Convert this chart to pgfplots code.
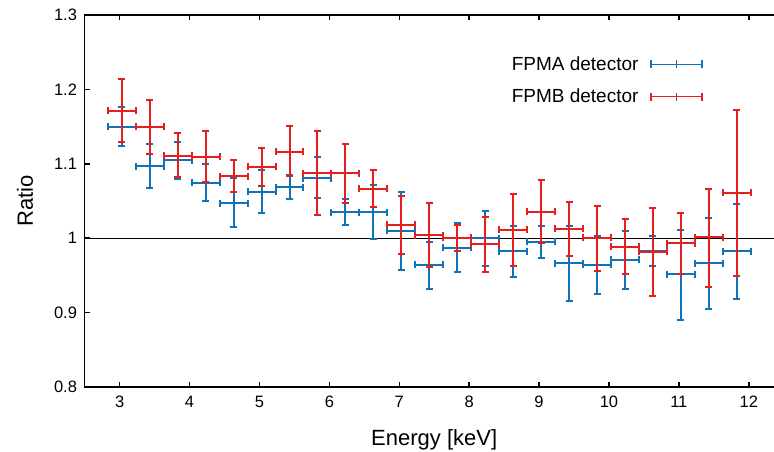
\documentclass[border=0pt]{standalone}
\usepackage{pgfplots}
\pgfplotsset{compat=1.18}
\usepackage{pgfplotstable}
\usepackage{fontspec}
\setmainfont{Liberation Sans}
\definecolor{cblue}{RGB}{16,114,184}
\definecolor{cred}{RGB}{230,30,30}

\pgfplotstableread{
x y ex eyp eym
3.03 1.1495 0.2 0.0264 0.0260
3.43 1.0966 0.2 0.0296 0.0291
3.83 1.1051 0.2 0.0242 0.0255
4.23 1.0746 0.2 0.0247 0.0246
4.63 1.0469 0.2 0.0344 0.0314
5.03 1.0625 0.2 0.0288 0.0282
5.43 1.0684 0.2 0.0161 0.0161
5.83 1.0809 0.2 0.0287 0.0273
6.23 1.0348 0.2 0.0179 0.0171
6.63 1.0348 0.2 0.0371 0.0363
7.03 1.0101 0.2 0.0516 0.0528
7.43 0.9640 0.2 0.0309 0.0323
7.83 0.9873 0.2 0.0327 0.0331
8.23 0.9999 0.2 0.0363 0.0373
8.63 0.9828 0.2 0.0340 0.0354
9.03 0.9949 0.2 0.0215 0.0215
9.43 0.9663 0.2 0.0496 0.0507
9.83 0.9640 0.2 0.0390 0.0390
10.23 0.9711 0.2 0.0390 0.0390
10.63 0.9830 0.2 0.0200 0.0200
11.03 0.9515 0.2 0.0595 0.0614
11.43 0.9663 0.2 0.0613 0.0615
11.83 0.9828 0.2 0.0636 0.0641
}\fpma

\pgfplotstableread{
x y ex eyp eym
3.03 1.1714 0.2 0.0426 0.0421
3.43 1.1495 0.2 0.0358 0.0367
3.83 1.1105 0.2 0.0313 0.0282
4.23 1.1096 0.2 0.0345 0.0345
4.63 1.0836 0.2 0.0215 0.0215
5.03 1.0961 0.2 0.0251 0.0256
5.43 1.1163 0.2 0.0345 0.0327
5.83 1.0876 0.2 0.0569 0.0568
6.23 1.0876 0.2 0.0394 0.0403
6.63 1.0665 0.2 0.0248 0.0250
7.03 1.0182 0.2 0.0381 0.0390
7.43 1.0043 0.2 0.0430 0.0426
7.83 1.0003 0.2 0.0174 0.0171
8.23 0.9918 0.2 0.0363 0.0368
8.63 1.0115 0.2 0.0483 0.0493
9.03 1.0357 0.2 0.0421 0.0417
9.43 1.0128 0.2 0.0359 0.0367
9.83 1.0003 0.2 0.0434 0.0440
10.23 0.9886 0.2 0.0376 0.0371
10.63 0.9815 0.2 0.0591 0.0592
11.03 0.9932 0.2 0.0407 0.0417
11.43 1.0016 0.2 0.0645 0.0668
11.83 1.0612 0.2 0.1116 0.1120
}\fpmb

\begin{document}
\begin{tikzpicture}
\begin{axis}[
  at={(84.7pt,64pt)}, anchor=south west,
  scale only axis, width=699pt, height=372pt,
  clip mode=individual,
  xmin=2.5, xmax=12.5, ymin=0.8, ymax=1.3,
  xtick={3,4,5,6,7,8,9,10,11,12},
  ytick={0.8,0.9,1,1.1,1.2,1.3},
  yticklabels={0.8,0.9,1,1.1,1.2,1.3},
  axis line style={line width=1.5pt, black},
  tick align=inside,
  major tick length=5pt,
  tick style={line width=1.5pt, black},
  /pgf/number format/assume math mode=true,
  ticklabel style={font=\fontsize{16.5}{19}\selectfont},
  xticklabel style={anchor=base, yshift=-20pt, inner sep=0pt},
  yticklabel style={anchor=east, inner sep=0pt, xshift=-7.5pt},
  xlabel={Energy [keV]},
  label style={font=\fontsize{22}{26}\selectfont},
  xlabel style={at={(axis description cs:0.5,-0.156)}, anchor=base, inner sep=0pt},
  legend cell align=right,
  legend plot pos=right,
  legend style={draw=none, fill=none, inner sep=0pt, outer sep=0pt,
    at={(axis description cs:0.8845,0.8876)}, anchor=north east,
    row sep=17pt,
    nodes={inner sep=0pt, font=\fontsize{19}{22}\selectfont},
    /tikz/every odd column/.append style={column sep=12pt}},
]
\addplot[black, line width=1.2pt, forget plot] coordinates {(2.5,1) (12.5,1)};

\addplot[draw=none, mark=none,
  legend image code/.code={
    \draw[cblue, line width=1.5pt] (0pt,0pt) -- (51pt,0pt);
    \draw[cblue, line width=1.5pt] (0pt,-4pt) -- (0pt,4pt);
    \draw[cblue, line width=1.5pt] (25.5pt,-4pt) -- (25.5pt,4pt);
    \draw[cblue, line width=1.5pt] (51pt,-4pt) -- (51pt,4pt);},
  error bars/.cd, x dir=both, x explicit, y dir=both, y explicit,
  error mark=-,
  error bar style={draw=cblue, line width=2pt},
  error mark options={rotate=90, draw=cblue, line width=2pt, mark size=3.5pt}]
  table[x=x, y=y, x error=ex, y error plus=eyp, y error minus=eym] {\fpma};
\addlegendentry{FPMA detector}

\addplot[draw=none, mark=none,
  legend image code/.code={
    \draw[cred, line width=1.5pt] (0pt,0pt) -- (51pt,0pt);
    \draw[cred, line width=1.5pt] (0pt,-4pt) -- (0pt,4pt);
    \draw[cred, line width=1.5pt] (25.5pt,-4pt) -- (25.5pt,4pt);
    \draw[cred, line width=1.5pt] (51pt,-4pt) -- (51pt,4pt);},
  error bars/.cd, x dir=both, x explicit, y dir=both, y explicit,
  error mark=-,
  error bar style={draw=cred, line width=2pt},
  error mark options={rotate=90, draw=cred, line width=2pt, mark size=3.5pt}]
  table[x=x, y=y, x error=ex, y error plus=eyp, y error minus=eym] {\fpmb};
\addlegendentry{FPMB detector}

\node[rotate=90, anchor=base, inner sep=0pt, font=\fontsize{22}{26}\selectfont]
  at (axis description cs:-0.074,0.5) {Ratio};
\end{axis}
\pgfresetboundingbox
\path[use as bounding box] (0pt,0pt) rectangle (774pt,451pt);
\end{tikzpicture}
\end{document}
